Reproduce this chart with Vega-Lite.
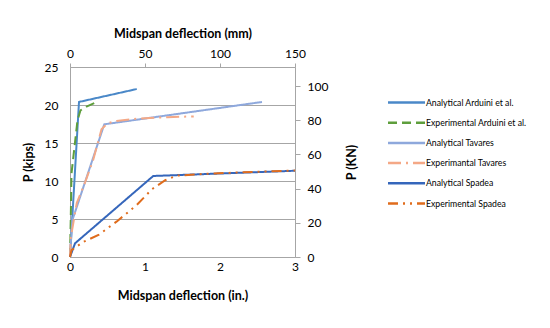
{
  "$schema": "https://vega.github.io/schema/vega-lite/v6.json",
  "width": 225,
  "height": 190,
  "autosize": {"type": "none"},
  "padding": {"left": 70, "top": 67, "right": 255, "bottom": 71},
  "background": "white",
  "config": {
    "font": "Lato",
    "view": {"stroke": null},
    "axis": {"labelFont": "Lato", "titleFont": "Lato", "labelColor": "#000000", "titleColor": "#000000", "domainColor": "#A6A6A6", "tickColor": "#A6A6A6", "gridColor": "#A6A6A6", "labelFontSize": 12, "titleFontSize": 12.5, "titleFontWeight": "bold", "labelFlush": false}
  },
  "layer": [
    {
      "data": {
        "values": [
          {"series": "Analytical Arduini et al.", "i": 0, "x": 0, "y": 0},
          {"series": "Analytical Arduini et al.", "i": 1, "x": 0.12, "y": 20.4},
          {"series": "Analytical Arduini et al.", "i": 2, "x": 0.89, "y": 22.1},
          {"series": "Experimental Arduini et al.", "i": 0, "x": 0, "y": 0},
          {"series": "Experimental Arduini et al.", "i": 1, "x": 0.01, "y": 5},
          {"series": "Experimental Arduini et al.", "i": 2, "x": 0.02, "y": 11},
          {"series": "Experimental Arduini et al.", "i": 3, "x": 0.06, "y": 14.5},
          {"series": "Experimental Arduini et al.", "i": 4, "x": 0.1, "y": 18},
          {"series": "Experimental Arduini et al.", "i": 5, "x": 0.14, "y": 19.3},
          {"series": "Experimental Arduini et al.", "i": 6, "x": 0.22, "y": 19.8},
          {"series": "Experimental Arduini et al.", "i": 7, "x": 0.36, "y": 20.4},
          {"series": "Analytical Tavares", "i": 0, "x": 0, "y": 0},
          {"series": "Analytical Tavares", "i": 1, "x": 0.03, "y": 4.8},
          {"series": "Analytical Tavares", "i": 2, "x": 0.457, "y": 17.46},
          {"series": "Analytical Tavares", "i": 3, "x": 2.56, "y": 20.4},
          {"series": "Experimantal Tavares", "i": 0, "x": 0, "y": 0},
          {"series": "Experimantal Tavares", "i": 1, "x": 0.01, "y": 2.5},
          {"series": "Experimantal Tavares", "i": 2, "x": 0.09, "y": 7.1},
          {"series": "Experimantal Tavares", "i": 3, "x": 0.2, "y": 9.8},
          {"series": "Experimantal Tavares", "i": 4, "x": 0.31, "y": 12.8},
          {"series": "Experimantal Tavares", "i": 5, "x": 0.42, "y": 16.8},
          {"series": "Experimantal Tavares", "i": 6, "x": 0.5, "y": 17.6},
          {"series": "Experimantal Tavares", "i": 7, "x": 0.62, "y": 17.9},
          {"series": "Experimantal Tavares", "i": 8, "x": 0.9, "y": 18.2},
          {"series": "Experimantal Tavares", "i": 9, "x": 1.3, "y": 18.4},
          {"series": "Experimantal Tavares", "i": 10, "x": 1.65, "y": 18.5},
          {"series": "Analytical Spadea", "i": 0, "x": 0, "y": 0},
          {"series": "Analytical Spadea", "i": 1, "x": 0.067, "y": 1.8},
          {"series": "Analytical Spadea", "i": 2, "x": 1.11, "y": 10.66},
          {"series": "Analytical Spadea", "i": 3, "x": 3.0, "y": 11.35},
          {"series": "Experimental Spadea", "i": 0, "x": 0, "y": 0},
          {"series": "Experimental Spadea", "i": 1, "x": 0.02, "y": 0.9},
          {"series": "Experimental Spadea", "i": 2, "x": 0.18, "y": 2.0},
          {"series": "Experimental Spadea", "i": 3, "x": 0.38, "y": 2.9},
          {"series": "Experimental Spadea", "i": 4, "x": 0.62, "y": 4.65},
          {"series": "Experimental Spadea", "i": 5, "x": 0.89, "y": 6.84},
          {"series": "Experimental Spadea", "i": 6, "x": 1.09, "y": 8.9},
          {"series": "Experimental Spadea", "i": 7, "x": 1.27, "y": 10.1},
          {"series": "Experimental Spadea", "i": 8, "x": 1.42, "y": 10.7},
          {"series": "Experimental Spadea", "i": 9, "x": 1.8, "y": 10.95},
          {"series": "Experimental Spadea", "i": 10, "x": 2.2, "y": 11.1},
          {"series": "Experimental Spadea", "i": 11, "x": 3.0, "y": 11.38}
        ]
      },
      "mark": {"type": "line", "strokeWidth": 2, "clip": false},
      "encoding": {
        "x": {
          "field": "x", "type": "quantitative",
          "scale": {"domain": [0, 3], "nice": false, "zero": true},
          "axis": {"orient": "bottom", "title": "Midspan deflection (in.)", "values": [0, 1, 2, 3], "format": "d", "grid": false, "ticks": false, "labelPadding": 4, "titlePadding": 17}
        },
        "y": {
          "field": "y", "type": "quantitative",
          "scale": {"domain": [0, 25], "nice": false},
          "axis": {"orient": "left", "title": "P (kips)", "values": [0, 5, 10, 15, 20, 25], "grid": true, "ticks": false, "labelPadding": 12, "titlePadding": 9}
        },
        "order": {"field": "i", "type": "quantitative"},
        "color": {
          "field": "series", "type": "nominal",
          "scale": {
            "domain": ["Analytical Arduini et al.", "Experimental Arduini et al.", "Analytical Tavares", "Experimantal Tavares", "Analytical Spadea", "Experimental Spadea"],
            "range": ["#4A88C8", "#5E9E3C", "#8EA8DC", "#F4A886", "#3566BB", "#E06C1C"]
          },
          "legend": {
            "title": null, "orient": "none", "legendX": 326, "legendY": 25,
            "symbolType": "M-2,0H2", "symbolSize": 342, "symbolStrokeWidth": 2.5,
            "labelFont": "Lato", "labelFontSize": 8.7, "labelColor": "#000000", "labelLimit": 200,
            "rowPadding": 4.2, "labelOffset": 9
          }
        },
        "strokeDash": {
          "field": "series", "type": "nominal",
          "scale": {
            "domain": ["Analytical Arduini et al.", "Experimental Arduini et al.", "Analytical Tavares", "Experimantal Tavares", "Analytical Spadea", "Experimental Spadea"],
            "range": [[1, 0], [9, 5], [1, 0], [13, 5, 2, 5], [1, 0], [10, 5, 2, 5, 2, 5]]
          },
          "legend": null
        }
      }
    },
    {
      "data": {"values": [{"mm": 0, "kn": 0}, {"mm": 150, "kn": 111.2}]},
      "mark": {"type": "point", "opacity": 0},
      "encoding": {
        "x": {
          "field": "mm", "type": "quantitative",
          "scale": {"domain": [0, 150], "nice": false},
          "axis": {"orient": "top", "title": "Midspan deflection (mm)", "values": [0, 50, 100, 150], "grid": false, "tickSize": 4, "labelPadding": 3, "titlePadding": 7}
        },
        "y": {
          "field": "kn", "type": "quantitative",
          "scale": {"domain": [0, 111.2], "nice": false},
          "axis": {"orient": "right", "title": "P (KN)", "titleAngle": 270, "values": [0, 20, 40, 60, 80, 100], "grid": false, "tickSize": 5, "labelPadding": 7, "titlePadding": 31}
        }
      }
    }
  ],
  "resolve": {"scale": {"x": "independent", "y": "independent"}, "axis": {"x": "independent", "y": "independent"}}
}
